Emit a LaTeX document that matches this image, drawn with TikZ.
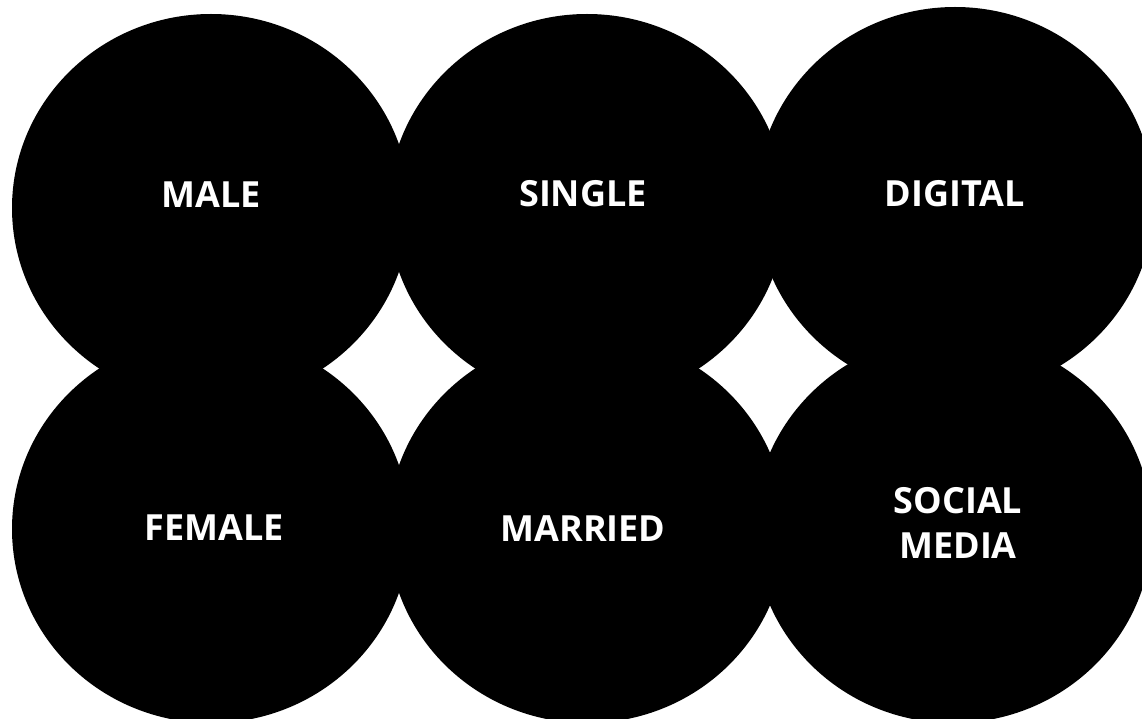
\documentclass[tikz,border=0pt]{standalone}
\usepackage{fontspec}
\setmainfont{Open Sans}
\usetikzlibrary{positioning,shapes.geometric}

\begin{document}
\begin{tikzpicture}[
					x=1pt, y=-1pt,
					blob/.style={
						ellipse, fill=black, draw=none,
						minimum width=398pt, minimum height=388pt, inner sep=0pt
					},
					tag/.style={
						text=white, inner sep=0pt, align=center,
						font=\bfseries\fontsize{36}{45}\selectfont
					}
					]
					\useasboundingbox (0,0) rectangle (1142,719);
					\clip (0,0) rectangle (1142,719);
					
					% --- HÀNG TRÊN ---
					\node[blob] (male) at (211,208) {};
					\node[blob] (single) at (587,208) {};
					\node[blob] (digital) at (955,201) {};
					
					% --- HÀNG DƯỚI ---
					\node[blob] (female) at (211,529) {};
					\node[blob] (married) at (587,529) {};
					\node[blob] (social) at (953,529) {};
					
					% --- CHỮ ---
					\node[tag] (maletxt) at ([yshift=13pt]male.center) {MALE};
					\node[tag] (singletxt) at ([xshift=-4pt, yshift=14pt]single.center) {SINGLE};
					\node[tag] (digitaltxt) at ([yshift=7pt]digital.center) {DIGITAL};
					\node[tag] (femaletxt) at ([xshift=3pt, yshift=1pt]female.center) {FEMALE};
					\node[tag] (marriedtxt) at ([xshift=-4pt]married.center) {MARRIED};
					\node[tag] (socialtxt) at ([xshift=5pt, yshift=6pt]social.center) {SOCIAL\\MEDIA};
					
				\end{tikzpicture}
\end{document}
